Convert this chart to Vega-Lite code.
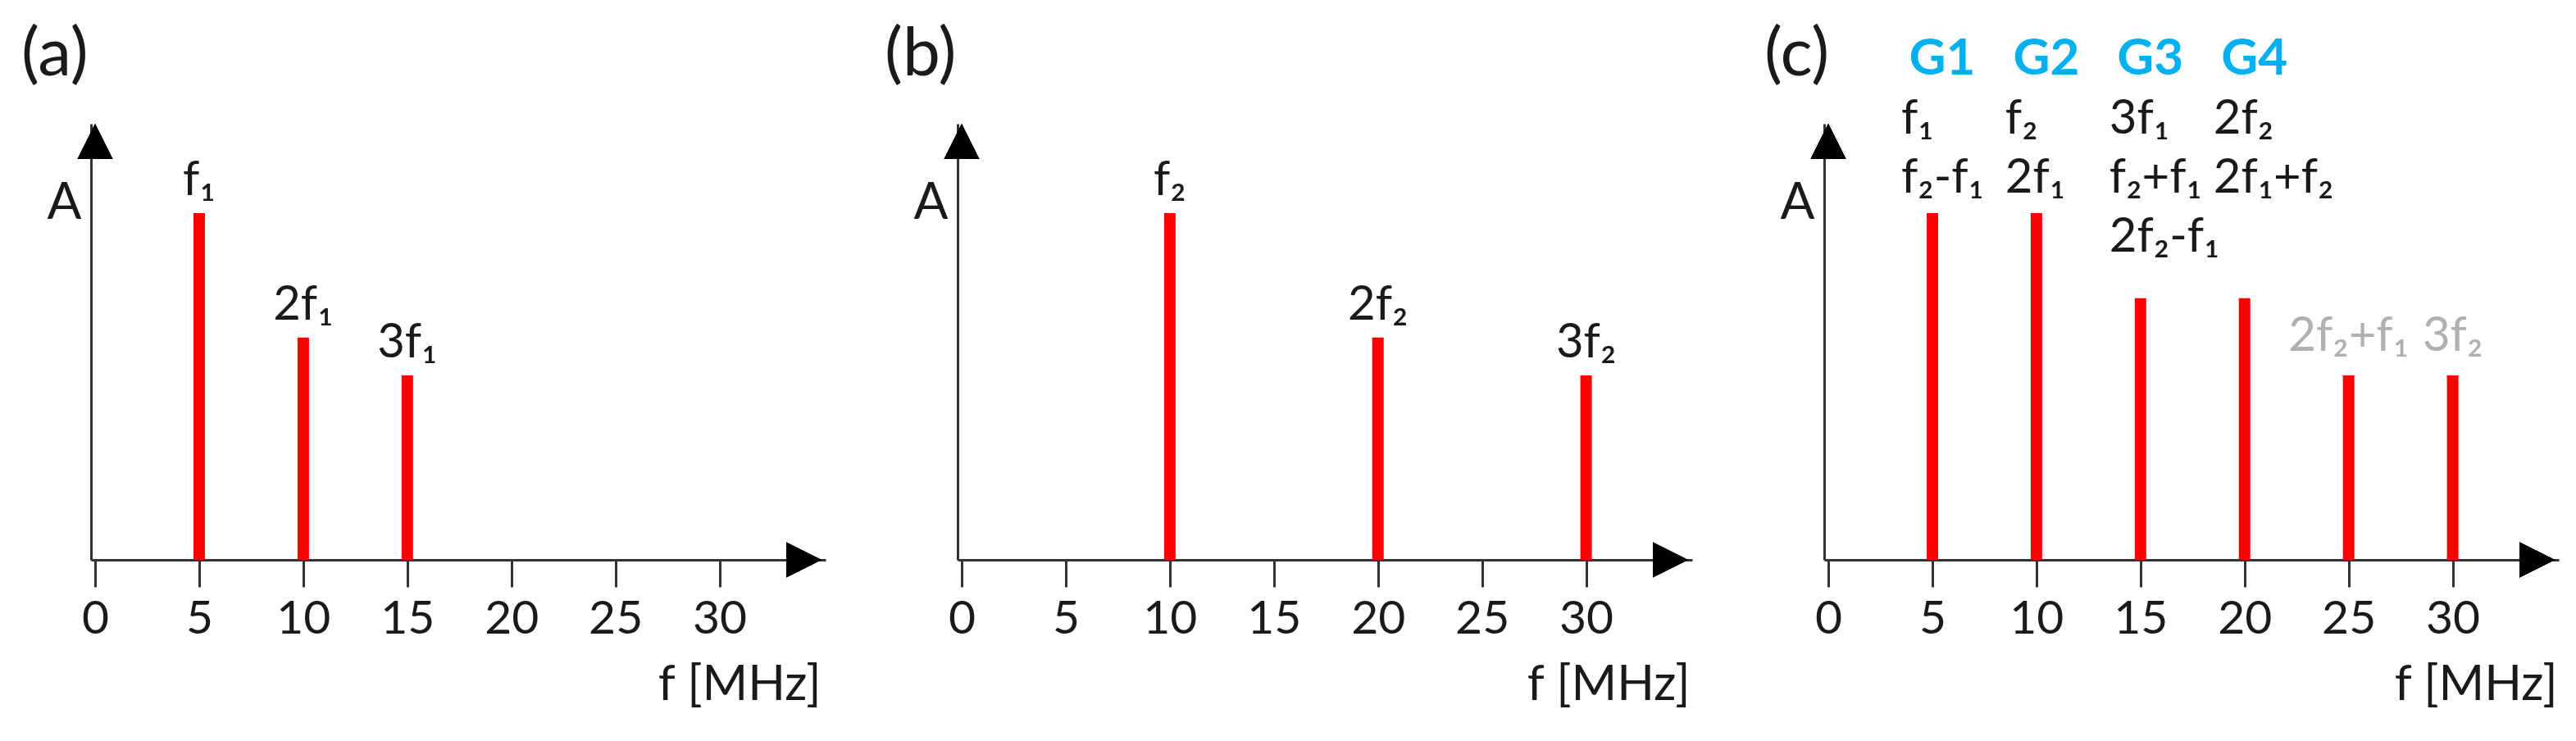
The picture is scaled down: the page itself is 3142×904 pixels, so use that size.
{
  "$schema": "https://vega.github.io/schema/vega-lite/v6.json",
  "background": "white",
  "padding": {"left": 26, "top": 25, "right": 10, "bottom": 10},
  "bounds": "flush",
  "spacing": 161,
  "datasets": {
    "a": [
      {"f": 5, "A": 7.95, "label": "f₁"},
      {"f": 10, "A": 5.1, "label": "2f₁"},
      {"f": 15, "A": 4.23, "label": "3f₁"}
    ],
    "b": [
      {"f": 10, "A": 7.95, "label": "f₂"},
      {"f": 20, "A": 5.1, "label": "2f₂"},
      {"f": 30, "A": 4.23, "label": "3f₂"}
    ],
    "c": [
      {"f": 5, "A": 7.95, "group": "G1", "terms": "f₁\nf₂-f₁", "extra": ""},
      {"f": 10, "A": 7.95, "group": "G2", "terms": "f₂\n2f₁", "extra": ""},
      {"f": 15, "A": 6.0, "group": "G3", "terms": "3f₁\nf₂+f₁\n2f₂-f₁", "extra": ""},
      {"f": 20, "A": 6.0, "group": "G4", "terms": "2f₂\n2f₁+f₂", "extra": ""},
      {"f": 25, "A": 4.23, "group": "", "terms": "", "extra": "2f₂+f₁"},
      {"f": 30, "A": 4.23, "group": "", "terms": "", "extra": "3f₂"}
    ]
  },
  "hconcat": [
    {
      "width": 896,
      "height": 532,
      "title": {"text": "(a)", "anchor": "start", "frame": "group", "dx": -85, "dy": 84, "offset": 61, "baseline": "alphabetic", "fontSize": 82, "fontWeight": "normal", "font": "Lato", "color": "#1a1a1a"},
      "data": {"name": "a"},
      "encoding": {
        "x": {"field": "f", "type": "quantitative", "scale": {"domain": [0, 34.9], "nice": false},
              "axis": {"values": [0, 5, 10, 15, 20, 25, 30], "title": "f [MHz]", "titleX": 890, "titleY": 170, "titleAlign": "right", "titleBaseline": "alphabetic"}},
        "y": {"field": "A", "type": "quantitative", "scale": {"domain": [0, 10], "nice": false},
              "axis": {"title": "A", "ticks": false, "labels": false, "titleAngle": 0, "titleX": -12, "titleY": 115, "titleAlign": "right", "titleBaseline": "alphabetic", "titleFontSize": 62}}
      },
      "layer": [
        {"mark": {"type": "bar", "size": 14, "color": "#ff0000"}},
        {"mark": {"type": "text", "font": "Lato", "fontSize": 58, "baseline": "alphabetic", "align": "center", "dy": -22, "color": "#1a1a1a"},
         "encoding": {"text": {"field": "label"}}},
        {"mark": {"type": "point", "shape": "M-2,-1L0,0L-2,1Z", "filled": true, "size": 1849, "color": "#000000", "opacity": 1},
         "encoding": {"x": {"datum": 34.9}, "y": {"datum": 0}}},
        {"mark": {"type": "point", "shape": "M-1,2L0,0L1,2Z", "filled": true, "size": 1849, "color": "#000000", "opacity": 1},
         "encoding": {"x": {"datum": 0}, "y": {"datum": 10}}}
      ]
    },
    {
      "width": 896,
      "height": 532,
      "title": {"text": "(b)", "anchor": "start", "frame": "group", "dx": -89, "dy": 84, "offset": 61, "baseline": "alphabetic", "fontSize": 82, "fontWeight": "normal", "font": "Lato", "color": "#1a1a1a"},
      "data": {"name": "b"},
      "encoding": {
        "x": {"field": "f", "type": "quantitative", "scale": {"domain": [0, 34.9], "nice": false},
              "axis": {"values": [0, 5, 10, 15, 20, 25, 30], "title": "f [MHz]", "titleX": 893, "titleY": 170, "titleAlign": "right", "titleBaseline": "alphabetic"}},
        "y": {"field": "A", "type": "quantitative", "scale": {"domain": [0, 10], "nice": false},
              "axis": {"title": "A", "ticks": false, "labels": false, "titleAngle": 0, "titleX": -12, "titleY": 115, "titleAlign": "right", "titleBaseline": "alphabetic", "titleFontSize": 62}}
      },
      "layer": [
        {"mark": {"type": "bar", "size": 14, "color": "#ff0000"}},
        {"mark": {"type": "text", "font": "Lato", "fontSize": 58, "baseline": "alphabetic", "align": "center", "dy": -22, "color": "#1a1a1a"},
         "encoding": {"text": {"field": "label"}}},
        {"mark": {"type": "point", "shape": "M-2,-1L0,0L-2,1Z", "filled": true, "size": 1849, "color": "#000000", "opacity": 1},
         "encoding": {"x": {"datum": 34.9}, "y": {"datum": 0}}},
        {"mark": {"type": "point", "shape": "M-1,2L0,0L1,2Z", "filled": true, "size": 1849, "color": "#000000", "opacity": 1},
         "encoding": {"x": {"datum": 0}, "y": {"datum": 10}}}
      ]
    },
    {
      "width": 896,
      "height": 532,
      "title": {"text": "(c)", "anchor": "start", "frame": "group", "dx": -73, "dy": 194, "offset": 61, "baseline": "alphabetic", "fontSize": 82, "fontWeight": "normal", "font": "Lato", "color": "#1a1a1a"},
      "data": {"name": "c"},
      "encoding": {
        "x": {"field": "f", "type": "quantitative", "scale": {"domain": [0, 34.9], "nice": false},
              "axis": {"values": [0, 5, 10, 15, 20, 25, 30], "title": "f [MHz]", "titleX": 894, "titleY": 170, "titleAlign": "right", "titleBaseline": "alphabetic"}},
        "y": {"field": "A", "type": "quantitative", "scale": {"domain": [0, 10], "nice": false},
              "axis": {"title": "A", "ticks": false, "labels": false, "titleAngle": 0, "titleX": -12, "titleY": 115, "titleAlign": "right", "titleBaseline": "alphabetic", "titleFontSize": 62}}
      },
      "layer": [
        {"mark": {"type": "bar", "size": 14, "color": "#ff0000"}},
        {"mark": {"type": "text", "font": "Lato", "fontSize": 62, "fontWeight": "bold", "baseline": "alphabetic", "align": "center", "dx": 12, "color": "#00b0f0"},
         "encoding": {"text": {"field": "group"}, "y": {"datum": 11.13}}},
        {"mark": {"type": "text", "font": "Lato", "fontSize": 58, "baseline": "alphabetic", "align": "left", "dx": -38, "lineBreak": "\n", "lineHeight": 72, "color": "#1a1a1a"},
         "encoding": {"text": {"field": "terms"}, "y": {"datum": 9.77}}},
        {"mark": {"type": "text", "font": "Lato", "fontSize": 58, "baseline": "alphabetic", "align": "center", "dy": -30, "color": "#b0b0b0"},
         "encoding": {"text": {"field": "extra"}}},
        {"mark": {"type": "point", "shape": "M-2,-1L0,0L-2,1Z", "filled": true, "size": 1849, "color": "#000000", "opacity": 1},
         "encoding": {"x": {"datum": 34.9}, "y": {"datum": 0}}},
        {"mark": {"type": "point", "shape": "M-1,2L0,0L1,2Z", "filled": true, "size": 1849, "color": "#000000", "opacity": 1},
         "encoding": {"x": {"datum": 0}, "y": {"datum": 10}}}
      ]
    }
  ],
  "config": {
    "view": {"stroke": null},
    "font": "Lato",
    "axis": {
      "grid": false,
      "domainColor": "#333333",
      "domainWidth": 3,
      "tickColor": "#333333",
      "tickWidth": 3,
      "tickSize": 33,
      "labelFont": "Lato",
      "labelFontSize": 57,
      "labelColor": "#1a1a1a",
      "labelPadding": 11,
      "labelFlush": false,
      "titleFont": "Lato",
      "titleFontSize": 60,
      "titleFontWeight": "normal",
      "titleColor": "#1a1a1a"
    }
  }
}
